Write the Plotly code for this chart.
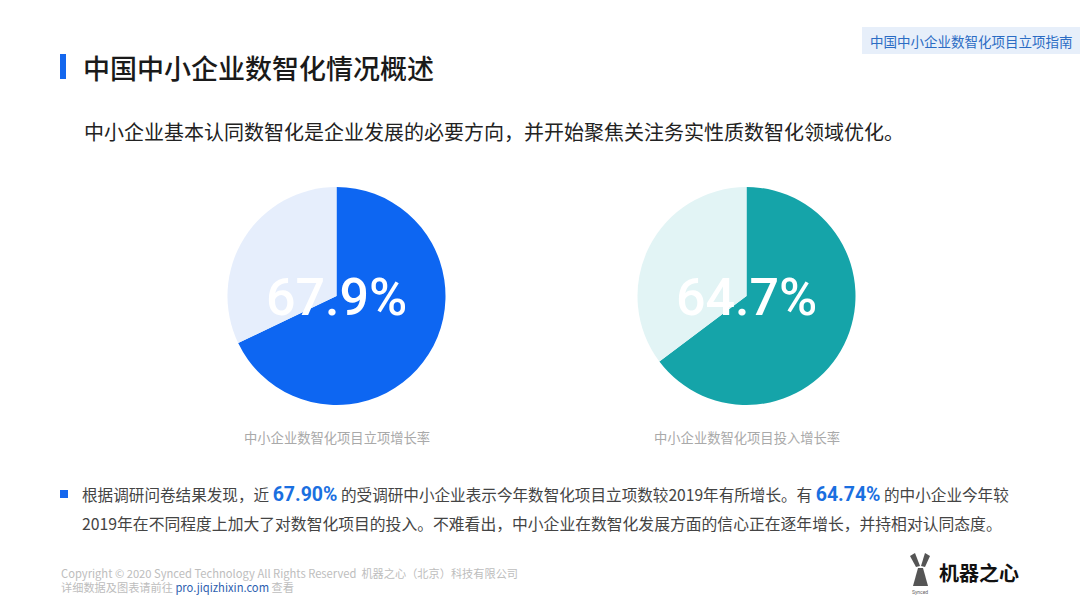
import plotly.graph_objects as go

W, H = 1080, 608

# ---- data ----
pie_labels = ["增长", "其他"]
growth_setup = [67.9, 32.1]        # 中小企业数智化项目立项增长率
growth_invest = [64.74, 35.26]     # 中小企业数智化项目投入增长率
pie_titles = ["中小企业数智化项目立项增长率", "中小企业数智化项目投入增长率"]
pie_center_text = ["67.9%", "64.7%"]
pie_colors = [["#0d66f2", "#e6eefc"], ["#15a4a9", "#e2f4f5"]]

def px(x):
    return x / W

def py(y):
    return 1 - y / H

CJK = "Noto Sans CJK SC"

fig = go.Figure()

pie_boxes = [(227, 446, 187, 405), (637, 856, 187, 405)]
for vals, cols, box in zip([growth_setup, growth_invest], pie_colors, pie_boxes):
    x0, x1, y0, y1 = box
    fig.add_trace(go.Pie(
        labels=pie_labels, values=vals, sort=False, direction="clockwise",
        rotation=0, marker=dict(colors=cols, line=dict(width=0)),
        textinfo="none", hoverinfo="skip", showlegend=False,
        domain=dict(x=[px(x0), px(x1)], y=[py(y1), py(y0)]),
    ))

ann = []
shapes = []

# centre percentages & captions
for txt, cap, box in zip(pie_center_text, pie_titles, pie_boxes):
    cx = (box[0] + box[1]) / 2
    ann.append(dict(x=px(cx), y=py(297), text=txt, showarrow=False,
                    xanchor="center", yanchor="middle",
                    font=dict(family="Roboto", size=52, weight=500, color="white")))
    ann.append(dict(x=px(cx), y=py(437), text=cap, showarrow=False,
                    xanchor="center", yanchor="middle",
                    font=dict(family=CJK, size=13.3, color="#a9a9a9")))

# title bar
shapes.append(dict(type="rect", xref="paper", yref="paper",
                   x0=px(60), x1=px(66), y0=py(79), y1=py(54),
                   fillcolor="#1467ee", line=dict(width=0)))
ann.append(dict(x=px(81), y=py(67), text="中国中小企业数智化情况概述", showarrow=False,
                xanchor="left", yanchor="middle",
                font=dict(family=CJK, size=27, weight=500, color="#1a1a1a")))

# top-right tag
shapes.append(dict(type="rect", xref="paper", yref="paper",
                   x0=px(862), x1=px(1080), y0=py(54), y1=py(27),
                   fillcolor="#e7effa", line=dict(width=0)))
ann.append(dict(x=px(971), y=py(41), text="中国中小企业数智化项目立项指南", showarrow=False,
                xanchor="center", yanchor="middle",
                font=dict(family=CJK, size=13.5, color="#2b6cc4")))

# subtitle
ann.append(dict(x=px(82), y=py(131),
                text="中小企业基本认同数智化是企业发展的必要方向，并开始聚焦关注务实性质数智化领域优化。",
                showarrow=False, xanchor="left", yanchor="middle",
                font=dict(family=CJK, size=20, color="#222222")))

# bullet text
shapes.append(dict(type="rect", xref="paper", yref="paper",
                   x0=px(60), x1=px(68), y0=py(498), y1=py(490),
                   fillcolor="#1467ee", line=dict(width=0)))
hl = "<span style='font-family:Roboto;font-size:19.5px;color:#1a6fe0'><b>{}</b></span>"
line1 = ("根据调研问卷结果发现，近 " + hl.format("67.90%") +
         " 的受调研中小企业表示今年数智化项目立项数较2019年有所增长。有 " +
         hl.format("64.74%") + " 的中小企业今年较")
line2 = "2019年在不同程度上加大了对数智化项目的投入。不难看出，中小企业在数智化发展方面的信心正在逐年增长，并持相对认同态度。"
ann.append(dict(x=px(80), y=py(494), text=line1, showarrow=False,
                xanchor="left", yanchor="middle",
                font=dict(family=CJK, size=15.6, color="#444444")))
ann.append(dict(x=px(80), y=py(523), text=line2, showarrow=False,
                xanchor="left", yanchor="middle",
                font=dict(family=CJK, size=15.8, color="#444444")))

# footer
ann.append(dict(x=px(59), y=py(573),
                text="Copyright © 2020 Synced Technology All Rights Reserved  机器之心（北京）科技有限公司",
                showarrow=False, xanchor="left", yanchor="middle",
                font=dict(family=CJK, size=11.2, color="#bdbdbd")))
ann.append(dict(x=px(59), y=py(587),
                text="详细数据及图表请前往 <span style='color:#2e5fb0'>pro.jiqizhixin.com</span> 查看",
                showarrow=False, xanchor="left", yanchor="middle",
                font=dict(family=CJK, size=11.2, color="#bdbdbd")))

# logo
def path(pts):
    return "M " + " L ".join(f"{px(x)},{py(y)}" for x, y in pts) + " Z"

for pts in [[(910, 556), (915, 553), (920, 566), (916, 567)],
            [(930, 556), (925, 553), (921, 566), (925, 567)],
            [(918, 568), (923, 568), (928, 586), (913, 586)]]:
    shapes.append(dict(type="path", xref="paper", yref="paper", path=path(pts),
                       fillcolor="#555555", line=dict(width=0)))
ann.append(dict(x=px(920), y=py(592), text="Synced", showarrow=False,
                xanchor="center", yanchor="middle",
                font=dict(family="Roboto", size=5, color="#666666")))
ann.append(dict(x=px(937), y=py(572), text="<b>机器之心</b>", showarrow=False,
                xanchor="left", yanchor="middle",
                font=dict(family=CJK, size=20, color="#111111")))

fig.update_layout(
    width=W, height=H, autosize=False,
    margin=dict(l=0, r=0, t=0, b=0),
    paper_bgcolor="white", plot_bgcolor="white",
    annotations=ann, shapes=shapes, showlegend=False,
)

fig.write_html("out.html", config={"displayModeBar": False},
               post_script="document.body.style.margin='0';")
